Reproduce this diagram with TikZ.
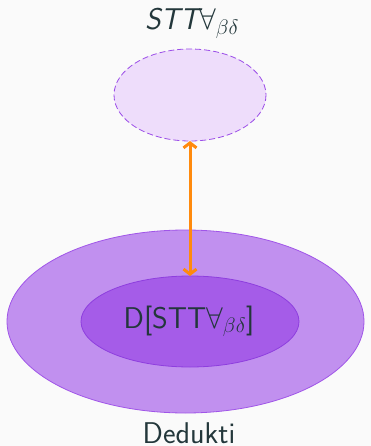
\RequirePackage{fix-cm}
\documentclass[tikz,border=0pt]{standalone}
\usepackage{fontspec}
\usetikzlibrary{arrows.meta}
\definecolor{bgc}{HTML}{FAFAFA}
\definecolor{txt}{HTML}{23373B}
\definecolor{topfill}{HTML}{EEDDFB}
\definecolor{topline}{HTML}{9B4DE8}
\definecolor{outerfill}{HTML}{C190EF}
\definecolor{outerline}{HTML}{A055E8}
\definecolor{innerfill}{HTML}{A55CE8}
\definecolor{innerline}{HTML}{8E3EDE}
\definecolor{arr}{HTML}{FF8A0D}
\begin{document}
\begin{tikzpicture}[x=1pt,y=-1pt,
  lbl/.style={text=txt,inner sep=0pt,anchor=base,font=\sffamily\fontsize{30}{32}\selectfont}]
\fill[bgc] (0,0) rectangle (371,446);
\useasboundingbox (0,0) rectangle (371,446);
\draw[topline,fill=topfill,dash pattern=on 6pt off 3pt,line width=0.8pt] (190,95) ellipse [x radius=76,y radius=46];
\coordinate (topE) at (190,141);
\node[lbl] (toplbl) at (192,30) {\itshape STT\upshape$\forall_{\beta\delta}$};
\draw[outerline,fill=outerfill,line width=0.8pt] (185.5,321.5) ellipse [x radius=178.5,y radius=91.5];
\draw[innerline,fill=innerfill,line width=0.8pt] (190,321.5) ellipse [x radius=109,y radius=45.5];
\coordinate (innerTop) at (190,276);
\node[lbl] (inlbl) at (189,328) {D[STT$\forall_{\beta\delta}$]};
\node[lbl] (ded) at (189,443.5) {Dedukti};
\draw[arr,line width=3pt,{Straight Barb[length=5pt,width=13pt]}-{Straight Barb[length=5pt,width=13pt]}] (topE) -- (innerTop);
\end{tikzpicture}
\end{document}
